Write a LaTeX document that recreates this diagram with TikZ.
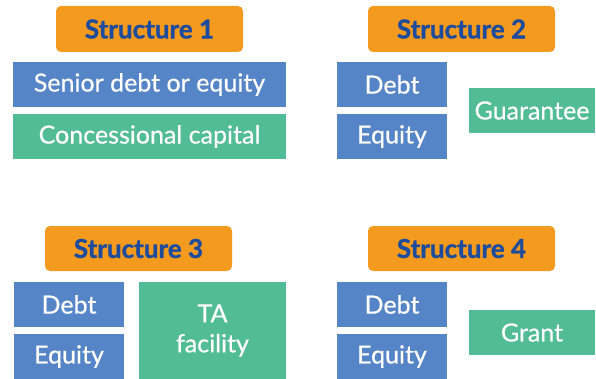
\documentclass[tikz,border=0pt]{standalone}
\usepackage{fontspec}
\setmainfont{Lato}[BoldFeatures={FakeBold=1.2}]
\newfontfamily\medfont{Lato}[FakeBold=0.5]
\usepackage{tikz}
\definecolor{hdrorange}{HTML}{F39A1F}
\definecolor{hdrblue}{HTML}{1E4C9C}
\definecolor{boxblue}{HTML}{5585C6}
\definecolor{boxgreen}{HTML}{52BC96}

\begin{document}
\begin{tikzpicture}
		[x=1pt,y=-1pt]
			\tikzstyle{every node}=[inner sep=0pt, draw=none, align=center]
			\tikzstyle{hdr}=[fill=hdrorange, rounded corners=5pt, text=hdrblue,
		minimum width=187pt, minimum height=46pt, font=\fontsize{26}{30}\selectfont\bfseries]
			\tikzstyle{blu}=[fill=boxblue, text=white, minimum height=45pt,
		font=\medfont\fontsize{25}{30}\selectfont]
			\tikzstyle{grn}=[fill=boxgreen, text=white, minimum height=45pt,
		font=\medfont\fontsize{25}{30}\selectfont]
		\useasboundingbox (0,0) rectangle (596,379);
		%-----Structure 1
		 \node[hdr]  (S1) at (149.5,29) {Structure 1};
		 \node[blu, minimum width=273pt]  (S1senior) at (149.5,84.5) {Senior debt or equity};
		 \node[grn, minimum width=273pt]  (S1conc) at (149.5,136.5) {Concessional capital};
		%-----Structure 2
		 \node[hdr]  (S2) at (461.5,29) {Structure 2};
		 \node[blu, minimum width=110pt]  (S2debt) at (392,84.5) {Debt};
		 \node[blu, minimum width=110pt]  (S2eq) at (392,136.5) {Equity};
		 \node[grn, minimum width=126pt]  (S2guar) at (532,110.5) {Guarantee};
		%-----Structure 3
		 \node[hdr, minimum height=45pt]  (S3) at (138.5,248.5) {Structure 3};
		 \node[blu, minimum width=110pt]  (S3debt) at (69,304.5) {Debt};
		 \node[blu, minimum width=110pt]  (S3eq) at (69,356.5) {Equity};
		 \node[grn, minimum width=147pt, minimum height=97pt]  (S3ta) at (212.5,330.5) {TA\\facility};
		%-----Structure 4
		 \node[hdr, minimum height=45pt]  (S4) at (461.5,248.5) {Structure 4};
		 \node[blu, minimum width=110pt]  (S4debt) at (392,304.5) {Debt};
		 \node[blu, minimum width=110pt]  (S4eq) at (392,356.5) {Equity};
		 \node[grn, minimum width=126pt]  (S4grant) at (532,332.5) {Grant};
		\end{tikzpicture}
\end{document}
